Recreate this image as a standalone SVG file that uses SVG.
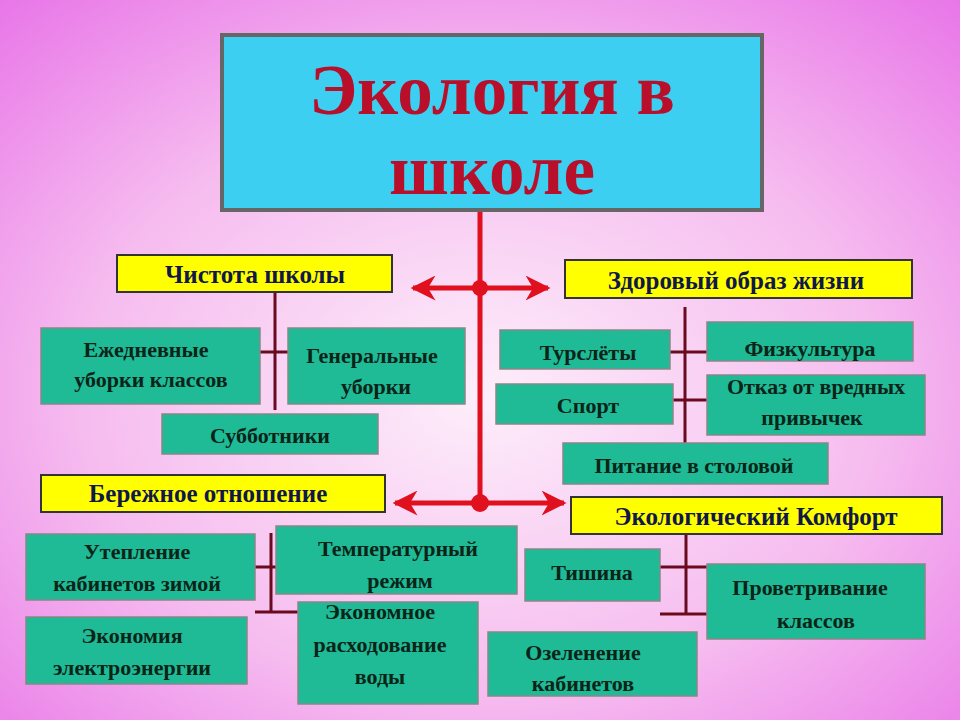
<svg xmlns="http://www.w3.org/2000/svg" width="960" height="720" viewBox="0 0 960 720">
<defs>
<radialGradient id="bg" cx="0.5" cy="0.55" r="0.75">
<stop offset="0" stop-color="#fdeefa"/><stop offset="0.55" stop-color="#f6bcef"/><stop offset="1" stop-color="#e874e8"/>
</radialGradient>
<marker id="ar" viewBox="0 0 10 10" refX="9" refY="5" markerWidth="5" markerHeight="5" orient="auto-start-reverse" markerUnits="strokeWidth">
<path d="M0,0 L10,5 L0,10 L3,5 Z" fill="#e0101e"/>
</marker>
<style>
.g{fill:#1fba96;stroke:#888;stroke-width:1.5}
.y{fill:#ffff00;stroke:#333;stroke-width:2}
.t{font-family:"Liberation Serif",serif;font-weight:bold;fill:#0b2418;font-size:22px;text-anchor:middle}
.h{font-family:"Liberation Serif",serif;font-weight:bold;font-size:25px;text-anchor:middle;fill:#10184a}
.red{stroke:#e0101e;stroke-width:5;fill:none}
.m{stroke:#6a0a1e;stroke-width:3;fill:none}
</style>
</defs>
<rect width="960" height="720" fill="url(#bg)"/>
<g id="connectors">
<line class="red" x1="480" y1="212" x2="480" y2="503"/>
<line class="red" x1="413" y1="288" x2="548" y2="288" marker-start="url(#ar)" marker-end="url(#ar)"/>
<line class="red" x1="395" y1="503" x2="564" y2="503" marker-start="url(#ar)" marker-end="url(#ar)"/>
<circle cx="480" cy="288" r="8" fill="#e0101e"/>
<circle cx="480" cy="503" r="9" fill="#e0101e"/>
<path class="m" d="M275,292V410M260,352H288"/>
<path class="m" d="M685,307V443M670,352H707M673,400H707"/>
<path class="m" d="M271,533V612M255,567H276M255,612H298"/>
<path class="m" d="M686,534V614M660,567H707M660,614H707"/>
</g>
<g id="title"><rect x="222" y="35" width="540" height="175" fill="#3ccff2" stroke="#666" stroke-width="4"/>
<text x="492" y="114" font-family="Liberation Serif,serif" font-weight="bold" font-size="71" fill="#b8102a" text-anchor="middle">Экология в</text>
<text x="492" y="194" font-family="Liberation Serif,serif" font-weight="bold" font-size="71" fill="#b8102a" text-anchor="middle">школе</text></g>
<g id="chistota"><rect class="y" x="117" y="255" width="275" height="37"/><text class="h" x="255" y="283">Чистота школы</text></g>
<g id="zozh"><rect class="y" x="565" y="260" width="347" height="38"/><text class="h" x="736" y="289">Здоровый образ жизни</text></g>
<g id="berezh"><rect class="y" x="41" y="475" width="344" height="37"/><text class="h" x="208" y="502" fill="#2030b0">Бережное отношение</text></g>
<g id="komfort"><rect class="y" x="571" y="497" width="371" height="37"/><text class="h" x="756" y="525">Экологический Комфорт</text></g>
<g id="n1"><rect class="g" x="41" y="328" width="219" height="76"/><text class="t" x="146" y="357">Ежедневные</text><text class="t" x="151" y="387">уборки классов</text></g>
<g id="n2"><rect class="g" x="288" y="328" width="177" height="76"/><text class="t" x="372" y="363">Генеральные</text><text class="t" x="376" y="394">уборки</text></g>
<g id="n3"><rect class="g" x="162" y="414" width="216" height="40"/><text class="t" x="270" y="443">Субботники</text></g>
<g id="n4"><rect class="g" x="500" y="330" width="170" height="39"/><text class="t" x="588" y="360">Турслёты</text></g>
<g id="n5"><rect class="g" x="496" y="384" width="177" height="40"/><text class="t" x="588" y="413">Спорт</text></g>
<g id="n6"><rect class="g" x="707" y="322" width="206" height="39"/><text class="t" x="810" y="356">Физкультура</text></g>
<g id="n7"><rect class="g" x="707" y="375" width="218" height="60"/><text class="t" x="816" y="394">Отказ от вредных</text><text class="t" x="812" y="425">привычек</text></g>
<g id="n8"><rect class="g" x="563" y="443" width="265" height="41"/><text class="t" x="694" y="473">Питание в столовой</text></g>
<g id="n9"><rect class="g" x="26" y="534" width="229" height="66"/><text class="t" x="137" y="559">Утепление</text><text class="t" x="137" y="591">кабинетов зимой</text></g>
<g id="n10"><rect class="g" x="276" y="526" width="241" height="68"/><text class="t" x="398" y="556">Температурный</text><text class="t" x="400" y="588">режим</text></g>
<g id="n11"><rect class="g" x="26" y="617" width="221" height="67"/><text class="t" x="132" y="643">Экономия</text><text class="t" x="132" y="675">электроэнергии</text></g>
<g id="n12"><rect class="g" x="298" y="602" width="180" height="102"/><text class="t" x="380" y="619">Экономное</text><text class="t" x="380" y="652">расходование</text><text class="t" x="380" y="684">воды</text></g>
<g id="n13"><rect class="g" x="525" y="549" width="135" height="52"/><text class="t" x="592" y="580">Тишина</text></g>
<g id="n14"><rect class="g" x="707" y="564" width="218" height="75"/><text class="t" x="810" y="595">Проветривание</text><text class="t" x="816" y="628">классов</text></g>
<g id="n15"><rect class="g" x="488" y="632" width="209" height="64"/><text class="t" x="583" y="660">Озеленение</text><text class="t" x="583" y="691">кабинетов</text></g>
</svg>
